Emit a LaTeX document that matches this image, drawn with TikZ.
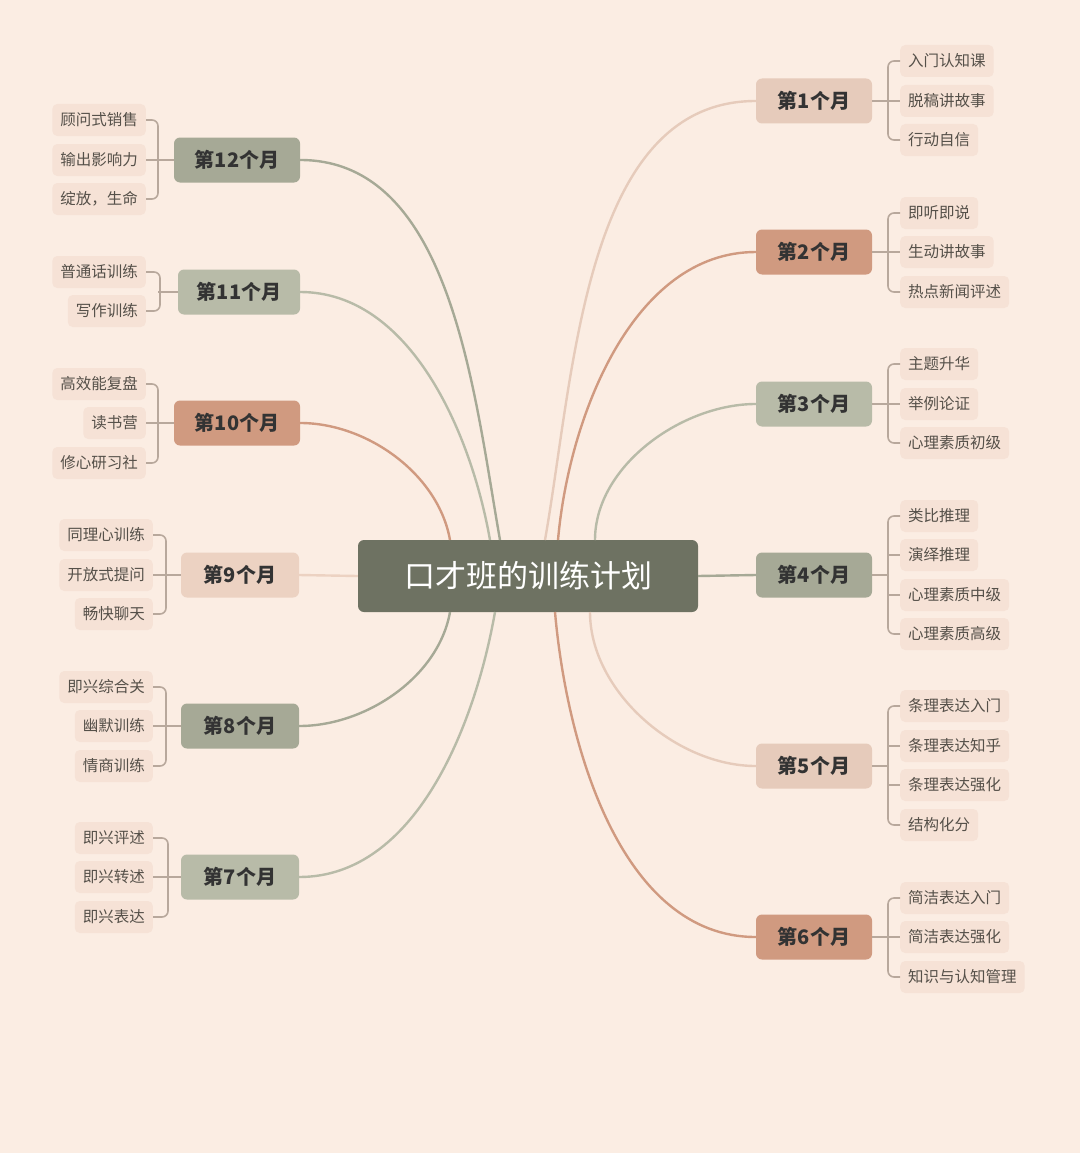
\documentclass[tikz,border=0pt]{standalone}
\usepackage{fontspec}
\setmainfont{Noto Sans CJK SC}
\newfontfamily\cjkb{Noto Sans CJK SC}[BoldFont={* Bold}]
\definecolor{bg}{HTML}{FBEDE3}
\definecolor{cen}{HTML}{6E7262}
\definecolor{cA}{HTML}{E6CBBB}
\definecolor{cB}{HTML}{D09A80}
\definecolor{cC}{HTML}{B8BBA8}
\definecolor{cD}{HTML}{A6A996}
\definecolor{cE}{HTML}{ECD2C2}
\definecolor{leafbg}{HTML}{F6E2D6}
\definecolor{leaftx}{HTML}{555049}
\definecolor{brk}{HTML}{B8A89C}
\begin{document}
\begin{tikzpicture}[x=1pt,y=-1pt,
  month/.style={rounded corners=6pt,minimum width=116pt,minimum height=45pt,font=\fontsize{20}{22}\selectfont\bfseries,text=black!80},
  leaf/.style={fill=leafbg,rounded corners=5pt,inner xsep=8pt,minimum height=32pt,font=\fontsize{15.5}{17}\selectfont,text=leaftx},
  br/.style={draw=brk,line width=1.6pt,rounded corners=6pt},
  con/.style={line width=2.4pt}]
\fill[bg] (0,0) rectangle (1080,1153);
\useasboundingbox (0,0) rectangle (1080,1153);
\node[fill=cen,rounded corners=6pt,minimum width=340pt,minimum height=72pt,text=white,font=\fontsize{31}{34}\selectfont] (c) at (528,576) {口才班的训练计划};
% months right
\node[month,fill=cA] (m1) at (814,101) {第1个月};
\node[month,fill=cB] (m2) at (814,252) {第2个月};
\node[month,fill=cC] (m3) at (814,404) {第3个月};
\node[month,fill=cD] (m4) at (814,575) {第4个月};
\node[month,fill=cA] (m5) at (814,766) {第5个月};
\node[month,fill=cB] (m6) at (814,937) {第6个月};
% months left
\node[month,fill=cD,minimum width=126pt] (m12) at (237,160) {第12个月};
\node[month,fill=cC,minimum width=122pt] (m11) at (239,292) {第11个月};
\node[month,fill=cB,minimum width=126pt] (m10) at (237,423) {第10个月};
\node[month,fill=cE,minimum width=118pt] (m9) at (240,575) {第9个月};
\node[month,fill=cD,minimum width=118pt] (m8) at (240,726) {第8个月};
\node[month,fill=cC,minimum width=118pt] (m7) at (240,877) {第7个月};
% connectors
\coordinate (s1) at (545,540); \coordinate (s2) at (558,540); \coordinate (s3) at (595,540);
\coordinate (s5) at (590,612); \coordinate (s6) at (555,612);
\coordinate (s12) at (500,540); \coordinate (s11) at (490,540); \coordinate (s10) at (450,540);
\coordinate (s8) at (450,612); \coordinate (s7) at (495,612);
\draw[con,draw=cA] (s1) to[out=80,in=180,looseness=0.9] (m1.west);
\draw[con,draw=cB] (s2) to[out=85,in=180,looseness=0.9] (m2.west);
\draw[con,draw=cC] (s3) to[out=90,in=180,looseness=0.9] (m3.west);
\draw[con,draw=cD] (c.east) -- (m4.west);
\draw[con,draw=cA] (s5) to[out=-90,in=180,looseness=0.9] (m5.west);
\draw[con,draw=cB] (s6) to[out=-85,in=180,looseness=0.9] (m6.west);
\draw[con,draw=cD] (s12) to[out=100,in=0,looseness=0.9] (m12.east);
\draw[con,draw=cC] (s11) to[out=100,in=0,looseness=0.9] (m11.east);
\draw[con,draw=cB] (s10) to[out=100,in=0,looseness=0.9] (m10.east);
\draw[con,draw=cE] (c.west) -- (m9.east);
\draw[con,draw=cD] (s8) to[out=-100,in=0,looseness=0.9] (m8.east);
\draw[con,draw=cC] (s7) to[out=-100,in=0,looseness=0.9] (m7.east);
% right leaves
\def\rleaves#1#2#3{%
  \foreach \t/\y [count=\i] in {#3} {
    \node[leaf,anchor=west] (#1l\i) at (900,\y) {\t};
  }
  \draw[br] (#1.east) -- (888,#2);
}
\rleaves{m1}{101}{入门认知课/61,脱稿讲故事/101,行动自信/140}
\draw[br] (m1l1.west) -- (888,61) -- (888,140) -- (m1l3.west); \draw[br] (888,101) -- (m1l2.west);
\rleaves{m2}{252}{即听即说/213,生动讲故事/252,热点新闻评述/292}
\draw[br] (m2l1.west) -- (888,213) -- (888,292) -- (m2l3.west); \draw[br] (888,252) -- (m2l2.west);
\rleaves{m3}{404}{主题升华/364,举例论证/404,心理素质初级/443}
\draw[br] (m3l1.west) -- (888,364) -- (888,443) -- (m3l3.west); \draw[br] (888,404) -- (m3l2.west);
\rleaves{m4}{575}{类比推理/516,演绎推理/555,心理素质中级/595,心理素质高级/634}
\draw[br] (m4l1.west) -- (888,516) -- (888,634) -- (m4l4.west); \draw[br] (888,555) -- (m4l2.west); \draw[br] (888,595) -- (m4l3.west);
\rleaves{m5}{766}{条理表达入门/706,条理表达知乎/746,条理表达强化/785,结构化分/825}
\draw[br] (m5l1.west) -- (888,706) -- (888,825) -- (m5l4.west); \draw[br] (888,746) -- (m5l2.west); \draw[br] (888,785) -- (m5l3.west);
\rleaves{m6}{937}{简洁表达入门/898,简洁表达强化/937,知识与认知管理/977}
\draw[br] (m6l1.west) -- (888,898) -- (888,977) -- (m6l3.west); \draw[br] (888,937) -- (m6l2.west);
% left leaves
\def\lleaves#1#2#3#4{%
  \foreach \t/\y [count=\i] in {#4} {
    \node[leaf,anchor=east] (#1l\i) at (#3,\y) {\t};
  }
  \draw[br] (#1.west) -- (#3+12,#2);
}
\lleaves{m12}{160}{146}{顾问式销售/120,输出影响力/160,绽放，生命/199}
\draw[br] (m12l1.east) -- (158,120) -- (158,199) -- (m12l3.east); \draw[br] (158,160) -- (m12l2.east);
\lleaves{m11}{292}{146}{普通话训练/272,写作训练/311}
\draw[br] (m11l1.east) -- (160,272) -- (160,311) -- (m11l2.east);
\lleaves{m10}{423}{146}{高效能复盘/384,读书营/423,修心研习社/463}
\draw[br] (m10l1.east) -- (158,384) -- (158,463) -- (m10l3.east); \draw[br] (158,423) -- (m10l2.east);
\lleaves{m9}{575}{153}{同理心训练/535,开放式提问/575,畅快聊天/614}
\draw[br] (m9l1.east) -- (166,535) -- (166,614) -- (m9l3.east); \draw[br] (166,575) -- (m9l2.east);
\lleaves{m8}{726}{153}{即兴综合关/687,幽默训练/726,情商训练/766}
\draw[br] (m8l1.east) -- (166,687) -- (166,766) -- (m8l3.east); \draw[br] (166,726) -- (m8l2.east);
\lleaves{m7}{877}{153}{即兴评述/838,即兴转述/877,即兴表达/917}
\draw[br] (m7l1.east) -- (168,838) -- (168,917) -- (m7l3.east); \draw[br] (168,877) -- (m7l2.east);
\end{tikzpicture}
\end{document}
